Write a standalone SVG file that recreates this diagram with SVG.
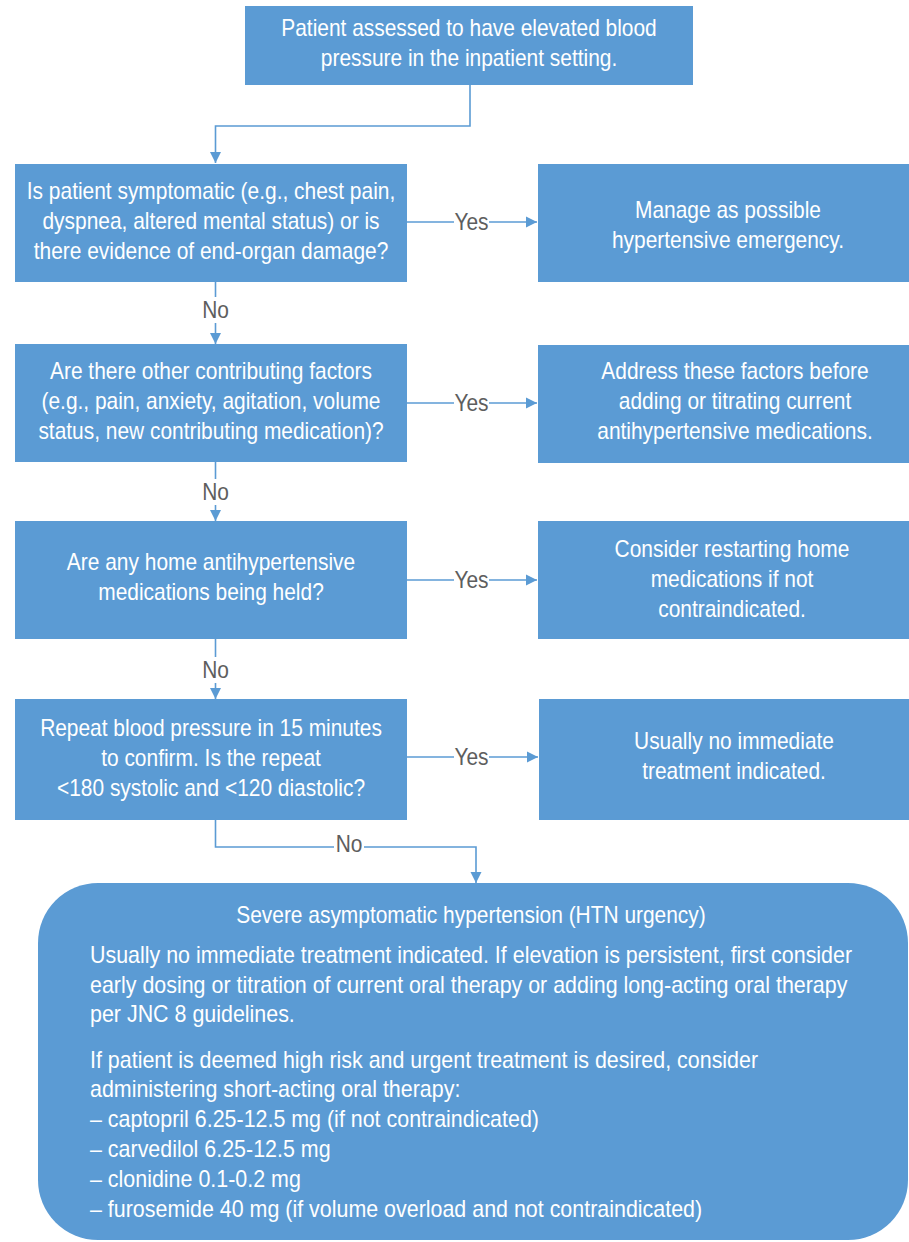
<svg xmlns="http://www.w3.org/2000/svg" width="909" height="1242" viewBox="0 0 909 1242">
<defs>
<style>
.box{fill:#5b9bd4;}
.t{font-family:"Liberation Sans",Arial,sans-serif;font-size:23px;fill:#ffffff;text-anchor:middle;}
.tl{font-family:"Liberation Sans",Arial,sans-serif;font-size:23px;fill:#ffffff;}
.lbl{font-family:"Liberation Sans",Arial,sans-serif;font-size:23px;fill:#5e5e5e;text-anchor:middle;}
.edge{fill:none;stroke:#5b9bd4;stroke-width:1.6;}
.bg{fill:#ffffff;}
</style>
<marker id="arr" markerWidth="12" markerHeight="12" viewBox="0 0 12 12" refX="11" refY="6" orient="auto" markerUnits="userSpaceOnUse">
<path d="M0,0.5 L11,6 L0,11.5 Z" fill="#5b9bd4"/>
</marker>
</defs>
<rect width="909" height="1242" fill="#ffffff"/>

<g id="connectors">
<path class="edge" d="M470,85 V126 H215.5 V163" marker-end="url(#arr)"/>
<path class="edge" d="M407,222 H537" marker-end="url(#arr)"/>
<path class="edge" d="M215.5,282 V344" marker-end="url(#arr)"/>
<path class="edge" d="M407,403 H537" marker-end="url(#arr)"/>
<path class="edge" d="M215.5,462 V521" marker-end="url(#arr)"/>
<path class="edge" d="M407,580 H537" marker-end="url(#arr)"/>
<path class="edge" d="M215.5,639 V699" marker-end="url(#arr)"/>
<path class="edge" d="M407,757 H538" marker-end="url(#arr)"/>
<path class="edge" d="M215.5,820 V847 H476 V883" marker-end="url(#arr)"/>
<rect class="bg" x="454" y="208" width="35" height="28"/>
<g transform="translate(471.5,0) scale(0.91,1)"><text class="lbl" x="0" y="230">Yes</text></g>
<rect class="bg" x="454" y="389" width="35" height="28"/>
<g transform="translate(471.5,0) scale(0.91,1)"><text class="lbl" x="0" y="411">Yes</text></g>
<rect class="bg" x="454" y="566" width="35" height="28"/>
<g transform="translate(471.5,0) scale(0.91,1)"><text class="lbl" x="0" y="588">Yes</text></g>
<rect class="bg" x="454" y="743" width="35" height="28"/>
<g transform="translate(471.5,0) scale(0.91,1)"><text class="lbl" x="0" y="765">Yes</text></g>
<rect class="bg" x="201" y="297" width="29" height="26"/>
<g transform="translate(215.5,0) scale(0.91,1)"><text class="lbl" x="0" y="318">No</text></g>
<rect class="bg" x="201" y="479" width="29" height="26"/>
<g transform="translate(215.5,0) scale(0.91,1)"><text class="lbl" x="0" y="500">No</text></g>
<rect class="bg" x="201" y="657" width="29" height="26"/>
<g transform="translate(215.5,0) scale(0.91,1)"><text class="lbl" x="0" y="678">No</text></g>
<rect class="bg" x="334" y="834" width="30" height="26"/>
<g transform="translate(349,0) scale(0.91,1)"><text class="lbl" x="0" y="852">No</text></g>
</g>

<g id="n-start">
<rect class="box" x="245" y="6" width="448" height="79"/>
<g transform="translate(469,0) scale(0.91,1)">
<text class="t" x="0" y="36">Patient assessed to have elevated blood</text>
<text class="t" x="0" y="66">pressure in the inpatient setting.</text>
</g>
</g>

<g id="n-q1">
<rect class="box" x="15" y="164" width="392" height="118"/>
<g transform="translate(211,0) scale(0.91,1)">
<text class="t" x="0" y="199">Is patient symptomatic (e.g., chest pain,</text>
<text class="t" x="0" y="229">dyspnea, altered mental status) or is</text>
<text class="t" x="0" y="259">there evidence of end-organ damage?</text>
</g>
</g>

<g id="n-r1">
<rect class="box" x="538" y="164" width="380" height="118"/>
<g transform="translate(728,0) scale(0.91,1)">
<text class="t" x="0" y="218">Manage as possible</text>
<text class="t" x="0" y="248">hypertensive emergency.</text>
</g>
</g>

<g id="n-q2">
<rect class="box" x="15" y="344" width="392" height="118"/>
<g transform="translate(211,0) scale(0.91,1)">
<text class="t" x="0" y="379">Are there other contributing factors</text>
<text class="t" x="0" y="409">(e.g., pain, anxiety, agitation, volume</text>
<text class="t" x="0" y="439">status, new contributing medication)?</text>
</g>
</g>

<g id="n-r2">
<rect class="box" x="538" y="345" width="380" height="118"/>
<g transform="translate(735,0) scale(0.91,1)">
<text class="t" x="0" y="379">Address these factors before</text>
<text class="t" x="0" y="409">adding or titrating current</text>
<text class="t" x="0" y="439">antihypertensive medications.</text>
</g>
</g>

<g id="n-q3">
<rect class="box" x="15" y="521" width="392" height="118"/>
<g transform="translate(211,0) scale(0.91,1)">
<text class="t" x="0" y="570">Are any home antihypertensive</text>
<text class="t" x="0" y="600">medications being held?</text>
</g>
</g>

<g id="n-r3">
<rect class="box" x="538" y="521" width="380" height="118"/>
<g transform="translate(732,0) scale(0.91,1)">
<text class="t" x="0" y="557">Consider restarting home</text>
<text class="t" x="0" y="587">medications if not</text>
<text class="t" x="0" y="617">contraindicated.</text>
</g>
</g>

<g id="n-q4">
<rect class="box" x="15" y="699" width="392" height="121"/>
<g transform="translate(211,0) scale(0.91,1)">
<text class="t" x="0" y="736">Repeat blood pressure in 15 minutes</text>
<text class="t" x="0" y="766">to confirm. Is the repeat</text>
<text class="t" x="0" y="796">&lt;180 systolic and &lt;120 diastolic?</text>
</g>
</g>

<g id="n-r4">
<rect class="box" x="539" y="699" width="380" height="121"/>
<g transform="translate(734,0) scale(0.91,1)">
<text class="t" x="0" y="749">Usually no immediate</text>
<text class="t" x="0" y="779">treatment indicated.</text>
</g>
</g>

<g id="n-urgency">
<rect class="box" x="38" y="883" width="870" height="357" rx="60" ry="60"/>
<g transform="translate(471,0) scale(0.91,1)">
<text class="t" x="0" y="923">Severe asymptomatic hypertension (HTN urgency)</text>
</g>
<g transform="translate(90,0) scale(0.932,1)">
<text class="tl" x="0" y="963">Usually no immediate treatment indicated. If elevation is persistent, first consider</text>
<text class="tl" x="0" y="993">early dosing or titration of current oral therapy or adding long-acting oral therapy</text>
<text class="tl" x="0" y="1022">per JNC 8 guidelines.</text>
<text class="tl" x="0" y="1068">If patient is deemed high risk and urgent treatment is desired, consider</text>
<text class="tl" x="0" y="1097">administering short-acting oral therapy:</text>
<text class="tl" x="0" y="1127">– captopril 6.25-12.5 mg (if not contraindicated)</text>
<text class="tl" x="0" y="1157">– carvedilol 6.25-12.5 mg</text>
<text class="tl" x="0" y="1187">– clonidine 0.1-0.2 mg</text>
<text class="tl" x="0" y="1217">– furosemide 40 mg (if volume overload and not contraindicated)</text>
</g>
</g>
</svg>
